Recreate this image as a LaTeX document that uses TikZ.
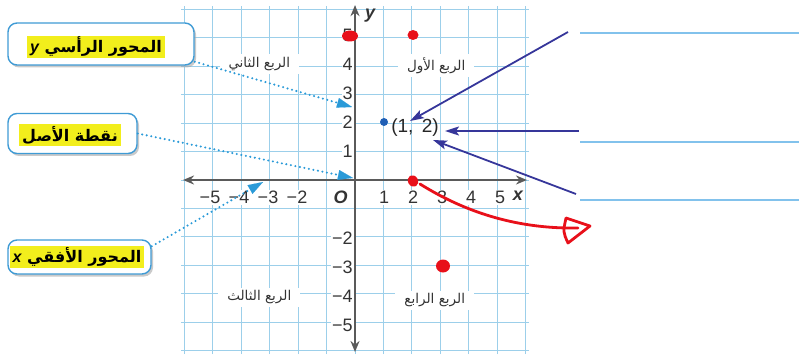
\documentclass[tikz,border=0pt]{standalone}
\usepackage{fontspec}
\setmainfont{Liberation Sans}
\newfontfamily\arabicfont[Script=Arabic]{DejaVu Sans}
\TeXXeTstate=1
\usetikzlibrary{arrows.meta,shadows,shapes.geometric}
\definecolor{gridblue}{HTML}{9CCFEA}
\definecolor{axisgray}{HTML}{5A5A5A}
\definecolor{navy}{HTML}{36369A}
\definecolor{dotblue}{HTML}{2A9AD8}
\definecolor{boxblue}{HTML}{3F9BD5}
\definecolor{hl}{HTML}{F2EE1C}
\definecolor{pen}{HTML}{E8101A}
\definecolor{rline}{HTML}{82C2EC}
\definecolor{txt}{HTML}{333333}
\definecolor{ptblue}{HTML}{1F5FB5}
\tikzset{
  gridl/.style={draw=gridblue, line width=0.9pt},
  axisl/.style={draw=axisgray, line width=2.4pt, {Stealth[length=11pt,width=9pt]}-{Stealth[length=11pt,width=9pt]}},
  ticklab/.style={text=txt, font=\fontsize{18}{20}\selectfont, fill=white, inner sep=1pt},
  axislab/.style={text=txt, font=\bfseries\itshape\fontsize{18}{20}\selectfont, inner sep=1pt},
  quadlab/.style={text=txt, font=\arabicfont\fontsize{13.5}{15}\selectfont, fill=white, inner xsep=9pt, inner ysep=3pt},
  labelbox/.style={draw=boxblue, line width=1.4pt, rounded corners=9pt, fill=white,
     drop shadow={shadow xshift=2pt, shadow yshift=-2.5pt, fill=black!35, opacity=0.6}},
  hltext/.style={fill=hl, text=black, font=\arabicfont\bfseries\fontsize{16}{19}\selectfont, inner xsep=3pt, inner ysep=1.5pt},
  dotconn/.style={draw=dotblue, line width=2.3pt, dash pattern=on 0pt off 4.6pt, line cap=round,
     -{Triangle[length=15pt,width=10pt,fill=dotblue,line width=0.1pt]}},
  navyarrow/.style={draw=navy, line width=1.8pt, -{Stealth[length=14pt,width=9pt,inset=3pt]}},
  redpen/.style={draw=pen, line width=2.8pt, line cap=round, line join=round},
  reddot/.style={fill=pen},
  rightline/.style={draw=rline, line width=2pt},
  ptlab/.style={text=black!85, font=\fontsize{19}{21}\selectfont, inner sep=1pt}
}
\begin{document}
\begin{tikzpicture}[x=1pt,y=-1pt]
\useasboundingbox (0,0) rectangle (799,358);
% grid
\begin{scope}[shift={(355,180)},x=29pt,y=29pt]
  \draw[gridl] (-6,-6) grid (6,6);
  % quadrant labels
  \node[quadlab] (q2) at (-3.3,4.0) {\beginR الربع الثاني\endR};
  \node[quadlab] (q1) at (2.8,3.95) {\beginR الربع الأول\endR};
  \node[quadlab] (q3) at (-3.3,-4.05) {\beginR الربع الثالث\endR};
  \node[quadlab] (q4) at (2.75,-4.15) {\beginR الربع الرابع\endR};
  % tick labels
  \foreach \k/\t in {-5/−5,-4/−4,-3/−3,-2/−2,1/1,2/2,3/3,4/4,5/5}
    \node[ticklab] (xl\k) at (\k,-0.6) {\t};
  \foreach \k/\t in {5/5,4/4,3/3,2/2,1/1,-2/−2,-3/−3,-4/−4,-5/−5}
    \node[ticklab, anchor=east] (yl\k) at (-0.04,\k) {\t};
  \node[axislab] (olab) at (-0.5,-0.6) {O};
  \node[axislab] (xlab) at (5.62,-0.55) {x};
  \node[axislab] (ylab) at (0.52,5.66) {y};
  % axes
  \coordinate (xa) at (-5.93,0);
  \coordinate (xb) at (5.93,0);
  \coordinate (ya) at (0,-5.93);
  \coordinate (yb) at (0,6.03);
  \draw[axisl] (xa) -- (xb);
  \draw[axisl] (ya) -- (yb);
  % point (1,2)
  \node[circle, fill=ptblue, inner sep=0pt, minimum size=8pt] (p12) at (1,2) {};
  \node[ptlab] (p12lab) at (2.07,1.80) {(1,\, 2)};
\end{scope}

% left boxes
\node[labelbox, minimum width=186pt, minimum height=42pt] (b1) at (101,44) {};
\node[hltext] (t1) at (96,47) {\beginR المحور الرأسي {\rmfamily\bfseries\itshape y}\endR};
\node[labelbox, minimum width=129pt, minimum height=40pt] (b2) at (72.5,133.5) {};
\node[hltext] (t2) at (70,135) {\beginR نقطة الأصل\endR};
\node[labelbox, minimum width=143pt, minimum height=34pt] (b3) at (79.5,257) {};
\node[hltext] (t3) at (77,257) {\beginR المحور الأفقي {\rmfamily\bfseries\itshape x}\endR};

% dotted connectors
\coordinate (a1) at (352,107);
\coordinate (a2) at (353,178);
\coordinate (a3) at (263,182);
\draw[dotconn] ([yshift=4pt]b1.south east) -- (a1);
\draw[dotconn] (b2.east) -- (a2);
\draw[dotconn] ([yshift=-7pt]b3.north east) -- (a3);

% red dots
\fill[reddot] (350,36) ellipse (8pt and 5.5pt);
\node[reddot, ellipse, inner sep=0pt, minimum width=11pt, minimum height=10pt] (r25) at (413,35) {};
\node[reddot, ellipse, inner sep=0pt, minimum width=10pt, minimum height=12pt, rotate=30] (r20) at (413,181) {};
\node[reddot, ellipse, inner sep=0pt, minimum width=14pt, minimum height=13pt] (r3m3) at (443,266) {};

% navy arrows
\coordinate (n1s) at (568,32);
\coordinate (n1t) at (410,121);
\coordinate (n2s) at (579,131);
\coordinate (n2t) at (445,131);
\coordinate (n3s) at (576,194);
\coordinate (n3t) at (433,140);
\draw[navyarrow] (n1s) -- (n1t);
\draw[navyarrow] (n2s) -- (n2t);
\draw[navyarrow] (n3s) -- (n3t);

% right lines
\coordinate (l1a) at (580,33);  \coordinate (l1b) at (799,33);
\coordinate (l2a) at (580,142); \coordinate (l2b) at (799,142);
\coordinate (l3a) at (580,200); \coordinate (l3b) at (799,200);
\draw[rightline] (l1a) -- (l1b);
\draw[rightline] (l2a) -- (l2b);
\draw[rightline] (l3a) -- (l3b);

% red pen curve
\coordinate (rs) at (420,184);
\coordinate (re) at (578,228);
\draw[redpen] (rs) .. controls (468,214) and (520,229) .. (re);
\coordinate (h1) at (566,218);
\coordinate (h2) at (590,226);
\coordinate (h3) at (568,243);
\draw[redpen] (h1) -- (h2) -- (h3) .. controls (563,232) .. (h1);
\end{tikzpicture}
\end{document}
